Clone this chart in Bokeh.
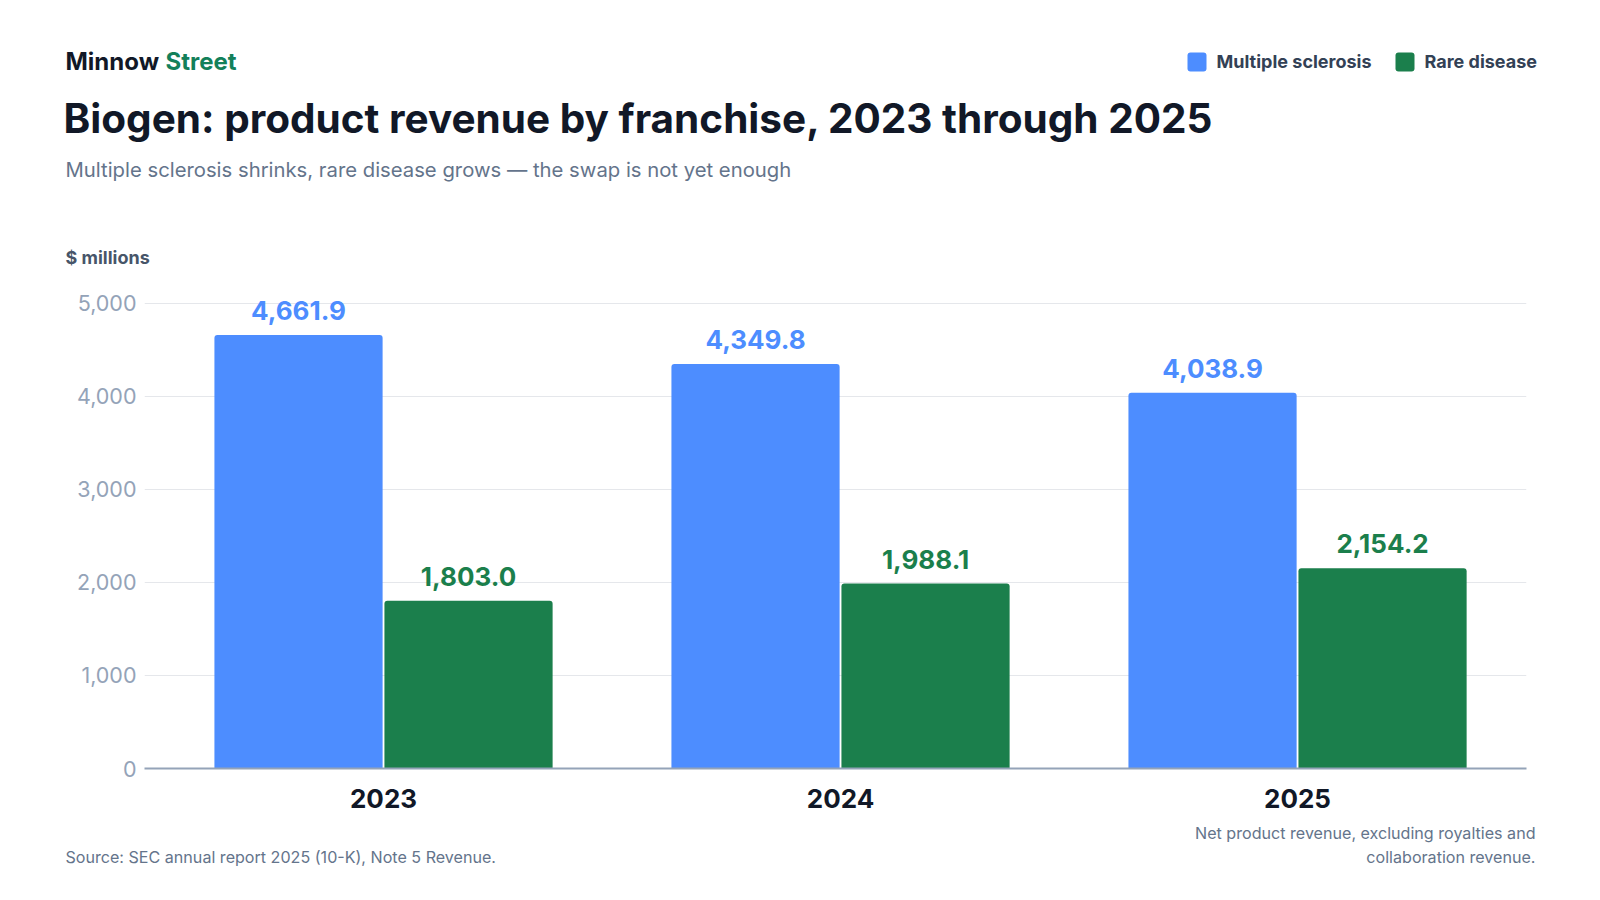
from bokeh.plotting import figure
from bokeh.layouts import column
from bokeh.models import Range1d, FixedTicker, NumeralTickFormatter, ColumnDataSource
from bokeh.core.properties import value
from bokeh.embed import file_html
from bokeh.resources import INLINE

# ---- data ----
years = ["2023", "2024", "2025"]
series_names = ["Multiple sclerosis", "Rare disease"]
ms_values = [4661.9, 4349.8, 4038.9]
rare_values = [1803.0, 1988.1, 2154.2]
y_ticks = [0, 1000, 2000, 3000, 4000, 5000]

# ---- style ----
FONT = "Inter"
BLUE = "#4d8dff"
GREEN = "#1b7f4c"
DARK = "#111827"
SUB = "#64748b"
TICK = "#94a3b8"
GRID = "#e5e7eb"

W = 1600
HEAD_H = 276          # page rows 0..276
MAIN_H = 542          # page rows 276..818
FOOT_H = 900 - HEAD_H - MAIN_H
FRAME_L, FRAME_R = 144, 1526
FRAME_B = 768 - HEAD_H   # in main-figure px
MID = 0.36            # baseline -> middle anchor shift, in em


def text_fig(h):
    f = figure(width=W, height=h, output_backend="svg", toolbar_location=None,
               x_range=Range1d(0, W), y_range=Range1d(h, 0),
               x_axis_type=None, y_axis_type=None, frame_align=False,
               min_border=0, min_border_left=0, min_border_right=0,
               min_border_top=0, min_border_bottom=0)
    f.outline_line_color = None
    f.grid.visible = False
    return f


def put(f, txt, X, Y, size, color, style="normal", align="left"):
    """Y is the wanted baseline (page px within the figure)."""
    f.text(x=[X], y=[Y - MID * size], text=[txt], text_font=value(FONT),
           text_font_size=f"{size}px", text_color=color, text_font_style=style,
           text_align=align, text_baseline="middle")


# ---- header ----
head = text_fig(HEAD_H)
put(head, "Minnow", 65, 70, 24, DARK, "bold")
put(head, "Street", 165, 70, 24, "#13805a", "bold")
put(head, "Biogen: product revenue by franchise, 2023 through 2025", 63, 133,
    40.5, DARK, "bold")
put(head, "Multiple sclerosis shrinks, rare disease grows \u2014 the swap is not yet enough",
    65, 176, 20.3, SUB)
put(head, "$ millions", 65, 263, 18, "#475569", "bold")

# legend swatches + labels
sw_left = [1187, 1395]
for name, col, lx in zip(series_names, [BLUE, GREEN], sw_left):
    head.quad(left=[lx], right=[lx + 19], top=[52], bottom=[71],
              fill_color=col, line_color=None, border_radius=3)
    put(head, name, lx + 29, 67, 18, "#334155", "bold")

# ---- main chart ----
p = figure(width=W, height=MAIN_H, output_backend="svg", toolbar_location=None,
           x_range=Range1d(-0.523, 2.501), y_range=Range1d(0, 5290),
           frame_align=False,
           min_border_left=FRAME_L, min_border_right=W - FRAME_R,
           min_border_top=0, min_border_bottom=MAIN_H - FRAME_B)
p.outline_line_color = None

xs = list(range(len(years)))
off = 0.186
bw = 0.368
src_ms = ColumnDataSource(dict(x=[x - off for x in xs], top=ms_values,
                               lab=[f"{v:,.1f}" for v in ms_values]))
src_rd = ColumnDataSource(dict(x=[x + off for x in xs], top=rare_values,
                               lab=[f"{v:,.1f}" for v in rare_values]))

p.vbar(x="x", top="top", width=bw, source=src_ms, fill_color=BLUE,
       line_color=None, border_radius=(3, 3, 0, 0))
p.vbar(x="x", top="top", width=bw, source=src_rd, fill_color=GREEN,
       line_color=None, border_radius=(3, 3, 0, 0))

VAL = 26
for src, col in ((src_ms, BLUE), (src_rd, GREEN)):
    p.text(x="x", y="top", text="lab", source=src, text_align="center",
           text_baseline="middle", y_offset=-(15 + MID * VAL),
           text_font=value(FONT), text_font_style="bold",
           text_font_size=f"{VAL}px", text_color=col)

yaxis = p.yaxis[0]
yaxis.ticker = FixedTicker(ticks=y_ticks)
yaxis.formatter = NumeralTickFormatter(format="0,0")
yaxis.axis_line_color = None
yaxis.major_tick_line_color = None
yaxis.minor_tick_line_color = None
yaxis.major_tick_out = 0
yaxis.minor_tick_out = 0
yaxis.major_label_text_font = FONT
yaxis.major_label_text_font_size = "21.5px"
yaxis.major_label_text_color = TICK
yaxis.major_label_standoff = 8

xaxis = p.xaxis[0]
xaxis.ticker = FixedTicker(ticks=xs)
xaxis.major_label_overrides = {i: y for i, y in enumerate(years)}
xaxis.axis_line_color = TICK
xaxis.axis_line_width = 2
xaxis.major_tick_line_color = None
xaxis.minor_tick_line_color = None
xaxis.major_tick_out = 0
xaxis.minor_tick_out = 0
xaxis.major_label_text_font = FONT
xaxis.major_label_text_font_style = "bold"
xaxis.major_label_text_font_size = "26px"
xaxis.major_label_text_color = DARK
xaxis.major_label_standoff = 20

p.xgrid.grid_line_color = None
p.ygrid.ticker = FixedTicker(ticks=y_ticks)
p.ygrid.grid_line_color = GRID
p.ygrid.grid_line_width = 1

# ---- footer ----
foot = text_fig(FOOT_H)
y0 = HEAD_H + MAIN_H
put(foot, "Source: SEC annual report 2025 (10-K), Note 5 Revenue.", 65, 862 - y0,
    16.1, SUB)
put(foot, "Net product revenue, excluding royalties and", 1535, 838 - y0,
    16.1, SUB, align="right")
put(foot, "collaboration revenue.", 1535, 862 - y0, 16.1, SUB, align="right")

layout = column(head, p, foot, spacing=0)
open("out.html", "w").write(file_html(layout, INLINE))
